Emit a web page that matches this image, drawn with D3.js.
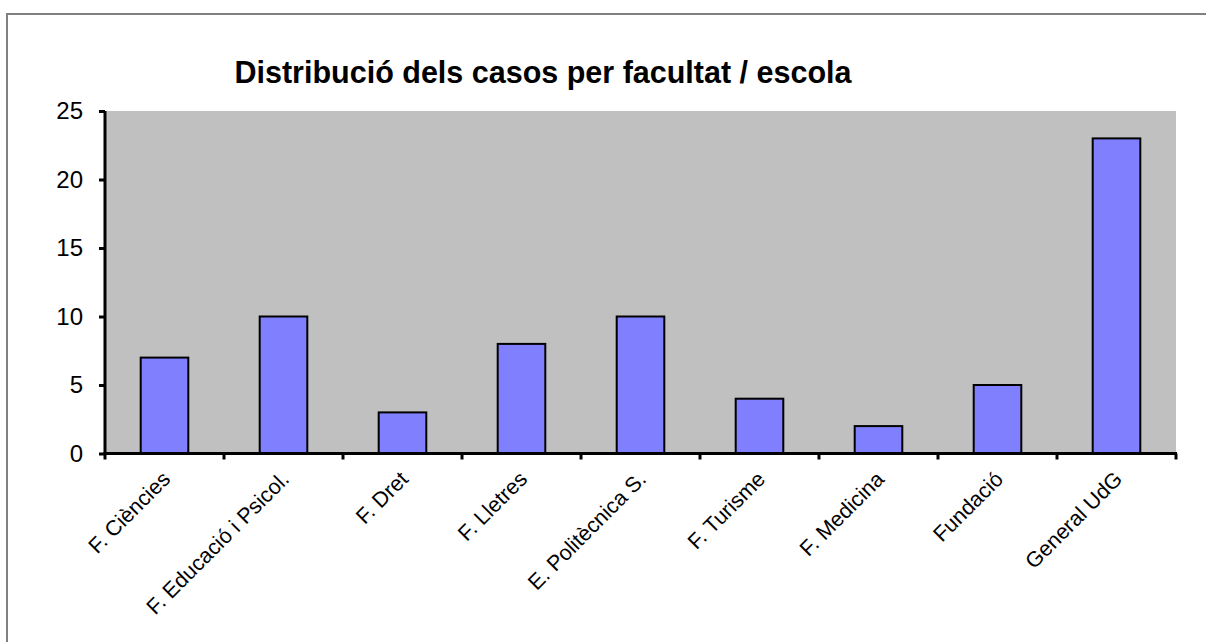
<!DOCTYPE html>
<html>
<head>
<meta charset="utf-8">
<script src="https://cdn.jsdelivr.net/npm/d3@7"></script>
<style>
  html, body { margin: 0; padding: 0; background: #fff; }
  svg { display: block; }
  text { font-family: "Liberation Sans", Arial, sans-serif; fill: #000; }
</style>
</head>
<body>
<svg id="chart" width="1206" height="642"></svg>
<script>
const title = "Distribució dels casos per facultat / escola";
const categories = ["F. Ciències", "F. Educació i Psicol.", "F. Dret", "F. Lletres", "E. Politècnica S.", "F. Turisme", "F. Medicina", "Fundació", "General UdG"];
const values = [7, 10, 3, 8, 10, 4, 2, 5, 23];
const yTicks = [0, 5, 10, 15, 20, 25];

const svg = d3.select("#chart");
const W = 1206, H = 642;
const plot = { left: 105, right: 1176, top: 111, bottom: 453.5 };

// outer frame
svg.append("rect")
  .attr("x", 7).attr("y", 14)
  .attr("width", W + 20).attr("height", H + 20)
  .attr("fill", "#fff").attr("stroke", "#808080").attr("stroke-width", 2);

const x = d3.scaleBand()
  .domain(categories)
  .range([plot.left, plot.right])
  .paddingInner(0.6)
  .paddingOuter(0.3);

const y = d3.scaleLinear().domain([0, 25]).range([plot.bottom, plot.top]);

// plot background
svg.append("rect")
  .attr("x", plot.left).attr("y", plot.top)
  .attr("width", plot.right - plot.left).attr("height", plot.bottom - plot.top)
  .attr("fill", "#C0C0C0");

// bars
svg.append("g").selectAll("rect")
  .data(values)
  .join("rect")
  .attr("x", (d, i) => x(categories[i]))
  .attr("y", d => y(d))
  .attr("width", x.bandwidth())
  .attr("height", d => y(0) - y(d))
  .attr("fill", "#8080FF")
  .attr("stroke", "#000")
  .attr("stroke-width", 2);

// y axis
const yAxis = d3.axisLeft(y).tickValues(yTicks).tickSize(6).tickPadding(16);
const gy = svg.append("g").attr("transform", `translate(${plot.left},0)`).call(yAxis);
gy.select(".domain").attr("stroke", "#000").attr("stroke-width", 3).attr("d", `M0,${plot.top}V${plot.bottom + 1.5}`);
gy.selectAll(".tick line").attr("stroke", "#000").attr("stroke-width", 3);
gy.selectAll(".tick text").style("font-size", "24px").style("font-family", "Liberation Sans, Arial, sans-serif").attr("fill", "#000");

// x axis (ticks at category boundaries)
const boundaries = categories.map((c, i) => plot.left + i * x.step());
boundaries.push(plot.right);
const gx = svg.append("g").attr("transform", `translate(0,${plot.bottom})`);
gx.append("path").attr("d", `M${plot.left - 1.5},0H${plot.right + 1}`).attr("stroke", "#000").attr("stroke-width", 3);
gx.selectAll("line.tk").data(boundaries).join("line")
  .attr("class", "tk")
  .attr("x1", d => d).attr("x2", d => d)
  .attr("y1", 0).attr("y2", 6)
  .attr("stroke", "#000").attr("stroke-width", 3);

gx.selectAll("text.lbl").data(categories).join("text")
  .attr("class", "lbl")
  .attr("text-anchor", "end")
  .attr("transform", c => `translate(${x(c) + x.bandwidth() / 2 + 7},${27}) rotate(-45)`)
  .style("font-size", "21.5px")
  .text(c => c);

// title
svg.append("text")
  .attr("x", 543).attr("y", 83)
  .attr("text-anchor", "middle")
  .style("font-size", "30.5px").style("font-weight", "bold")
  .text(title);
</script>
</body>
</html>
